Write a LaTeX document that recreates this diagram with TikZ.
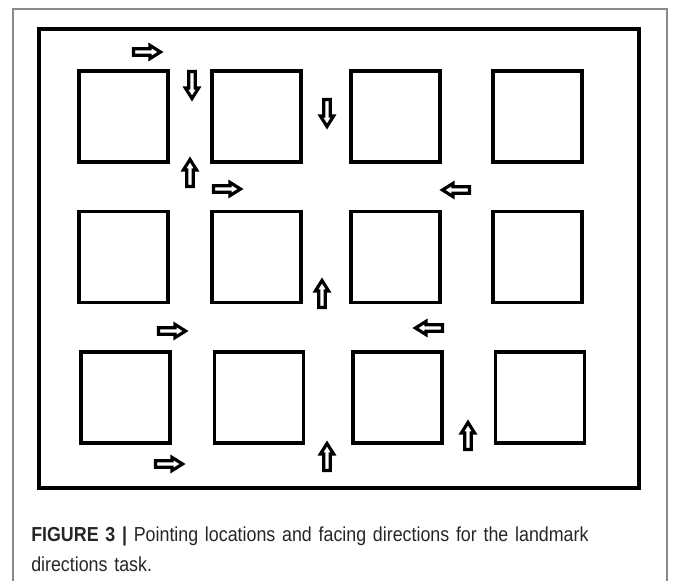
\documentclass[tikz,border=0pt]{standalone}
\usepackage{fontspec}
\setmainfont{Liberation Sans}
\newfontfamily\capfont[FakeStretch=0.88]{Liberation Sans}
\usepackage{xcolor}
\usepackage{tikz}
\usetikzlibrary{calc}
\definecolor{frameGrey}{HTML}{8A8A8A}
\definecolor{inkBlack}{HTML}{000000}
\tikzset{
  figframe/.style={draw=frameGrey, line width=0.8pt},
  arena/.style={draw=inkBlack, line width=3pt},
  landmark/.style={rectangle, draw=inkBlack, line width=2.6pt, minimum width=67pt, minimum height=68pt, inner sep=0pt},
  facearrow/.pic={\draw[draw=inkBlack, line width=2.4pt, miter limit=10] (-13.5,-3.3) -- (3,-3.3) -- (3,-6.6) -- (13.5,0) -- (3,6.6) -- (3,3.3) -- (-13.5,3.3) -- cycle;},
  captext/.style={font=\capfont\fontsize{15.2pt}{22pt}\selectfont, text=black!85, align=left, anchor=north west, inner sep=0pt, text width=470pt},
}
\begin{document}
\begin{tikzpicture}[x=0.75pt,y=-0.75pt]
  \useasboundingbox (0,0) rectangle (675,581);
  % Figure frame and arena
  \draw[figframe] (13,581) -- (13,9) -- (667,9) -- (667,581);
  \draw[arena] (39,29) rectangle (639,488);

  % Landmarks (rows top to bottom)
  \foreach \xa/\xb/\xc/\xd [count=\r] in {123.5/256.5/395.5/537.5, 123.5/256.5/395.5/537.5, 125.5/259/397.5/540}{
    \pgfmathsetmacro{\ry}{116.5+(\r-1)*140.5}
    \node[landmark] (lm\r a) at (\xa,\ry) {};
    \node[landmark] (lm\r b) at (\xb,\ry) {};
    \node[landmark] (lm\r c) at (\xc,\ry) {};
    \node[landmark] (lm\r d) at (\xd,\ry) {};
  }

  % Pointing locations, facing directions
  \foreach \px/\py/\ang in {147/52/0, 192/85/-90, 327/113/-90, 190/173/90, 227/189/0, 456/190/180, 322/294/90, 172/331/0, 429/328/180, 468/436/90, 169/464/0, 327/457/90}{
    \pic[rotate=\ang] at (\px,\py) {facearrow};
  }

  % Caption
  \node[captext] (cap) at (31,527) {\textbf{FIGURE 3 |} Pointing locations and facing directions for the landmark\\directions task.};
\end{tikzpicture}
\end{document}
